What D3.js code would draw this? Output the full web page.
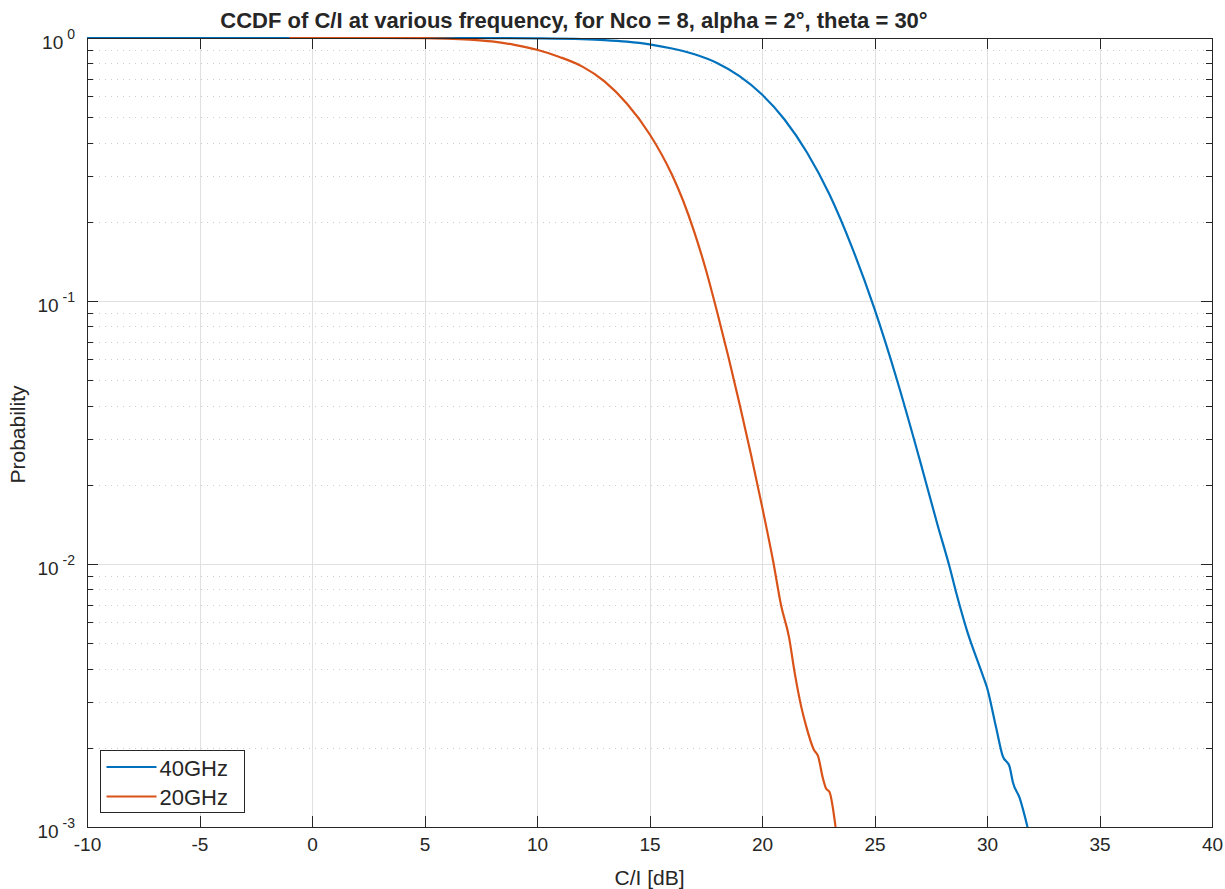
<!DOCTYPE html>
<html>
<head>
<meta charset="utf-8">
<script src="https://cdn.jsdelivr.net/npm/d3@7"></script>
<style>
  body { margin: 0; background: #fff; }
  svg text { font-family: "Liberation Sans", Arial, Helvetica, sans-serif; fill: #262626; }
</style>
</head>
<body>
<svg id="chart" width="1225" height="889"></svg>
<script>
// ---------------------------------------------------------------------------
// Data

const seriesNames = ['40GHz', '20GHz'];
const seriesColors = ['#0072BD', '#D95319'];

// 40GHz: C/I [dB] and CCDF probability
const ci40 = [-10, 0, 5, 8, 10, 12, 13, 14, 15, 16, 17, 18, 19, 20, 21, 22, 23, 24, 25, 26, 27,
  27.8, 28.35, 28.65, 29.1, 29.8, 30.0, 30.4, 30.7, 31.0, 31.15, 31.45, 31.8];
const prob40 = [1, 1, 1, 0.9988, 0.9966, 0.9897, 0.9817, 0.9683, 0.9462, 0.912, 0.867, 0.8035,
  0.716, 0.610, 0.490, 0.367, 0.254, 0.160, 0.0933, 0.0501, 0.0251,
  0.0141, 0.00966, 0.00767, 0.00562, 0.00380, 0.00339, 0.00240, 0.00186, 0.00170, 0.00148,
  0.00129, 0.00100];

// 20GHz
const ci20 = [-1, 3, 5, 6, 7, 8, 9, 10, 11, 12, 13, 14, 15, 16, 16.5, 17, 17.5, 18, 18.5, 19,
  19.5, 20, 20.5, 20.85, 21.2, 21.45, 21.75, 21.95, 22.3, 22.5, 22.7, 22.85, 23.0, 23.27];
const prob20 = [1, 1, 0.9995, 0.9954, 0.9863, 0.9705, 0.942, 0.902, 0.847, 0.780, 0.684, 0.562,
  0.4315, 0.302, 0.240, 0.182, 0.132, 0.0912, 0.0617, 0.0407,
  0.0263, 0.0166, 0.0102, 0.00695, 0.00527, 0.00387, 0.00285, 0.00244, 0.00197, 0.00185,
  0.00154, 0.00140, 0.00136, 0.00100];

const xTicks = [-10, -5, 0, 5, 10, 15, 20, 25, 30, 35, 40];
const yMajorExp = [0, -1, -2, -3];

const titleText = 'CCDF of C/I at various frequency, for Nco = 8, alpha = 2°, theta = 30°';
const xLabelText = 'C/I [dB]';
const yLabelText = 'Probability';

// ---------------------------------------------------------------------------
// Layout

const margin = { left: 87, right: 13, top: 38, bottom: 62 };
const width = 1225, height = 889;
const innerW = width - margin.left - margin.right;
const innerH = height - margin.top - margin.bottom;
const axisColor = '#262626';

const svg = d3.select('#chart');
const g = svg.append('g').attr('transform', `translate(${margin.left},${margin.top})`);

const x = d3.scaleLinear().domain([-10, 40]).range([0, innerW]);
const y = d3.scaleLog().domain([1e-3, 1]).range([innerH, 0]);

// minor decade values
const yMinor = [];
yMajorExp.slice(1).forEach(function(e) {
  for (let k = 2; k <= 9; k++) yMinor.push(k * Math.pow(10, e));
});
const yMajor = yMajorExp.map(e => Math.pow(10, e));

// grid
g.append('g').selectAll('line')
  .data(xTicks.slice(1, -1)).enter().append('line')
  .attr('x1', d => Math.round(x(d)) + 0.5).attr('x2', d => Math.round(x(d)) + 0.5)
  .attr('y1', 0).attr('y2', innerH)
  .attr('stroke', '#e0e0e0').attr('stroke-width', 1);

g.append('g').selectAll('line')
  .data(yMajor.slice(1, -1)).enter().append('line')
  .attr('x1', 0).attr('x2', innerW)
  .attr('y1', d => Math.round(y(d)) + 0.5).attr('y2', d => Math.round(y(d)) + 0.5)
  .attr('stroke', '#e0e0e0').attr('stroke-width', 1);

g.append('g').selectAll('line')
  .data(yMinor).enter().append('line')
  .attr('x1', 0).attr('x2', innerW)
  .attr('y1', d => Math.round(y(d)) + 0.5).attr('y2', d => Math.round(y(d)) + 0.5)
  .attr('stroke', '#cccccc').attr('stroke-width', 1)
  .attr('stroke-dasharray', '1,5');

// lines
svg.append('defs').append('clipPath').attr('id', 'clip')
  .append('rect').attr('x', -2).attr('y', -2).attr('width', innerW + 4).attr('height', innerH + 2);

const line = d3.line().x(d => x(d[0])).y(d => y(d[1])).curve(d3.curveMonotoneX);
const series = [d3.zip(ci40, prob40), d3.zip(ci20, prob20)];

g.append('g').attr('clip-path', 'url(#clip)')
  .selectAll('path').data(series).enter().append('path')
  .attr('d', line)
  .attr('fill', 'none')
  .attr('stroke', (d, i) => seriesColors[i])
  .attr('stroke-width', 2.2)
  .attr('stroke-linejoin', 'round');

// axes
const tick = 11, minorTick = 6;
const xAxisB = d3.axisBottom(x).tickValues(xTicks).tickSize(0).tickPadding(11)
  .tickFormat(d => String(d));
const gx = g.append('g').attr('transform', `translate(0,${innerH})`).call(xAxisB);
gx.select('.domain').remove();
gx.selectAll('text').attr('font-size', 19).attr('fill', axisColor)
  .style('font-family', '"Liberation Sans", Arial, sans-serif');

// tick marks (bottom / top / left / right)
const tickG = g.append('g').attr('stroke', axisColor).attr('stroke-width', 1);
xTicks.forEach(function(v) {
  const px = Math.round(x(v)) + 0.5;
  tickG.append('line').attr('x1', px).attr('x2', px).attr('y1', innerH).attr('y2', innerH - tick);
  tickG.append('line').attr('x1', px).attr('x2', px).attr('y1', 0).attr('y2', tick);
});
yMajor.forEach(function(v) {
  const py = Math.round(y(v)) + 0.5;
  tickG.append('line').attr('x1', 0).attr('x2', tick).attr('y1', py).attr('y2', py);
  tickG.append('line').attr('x1', innerW).attr('x2', innerW - tick).attr('y1', py).attr('y2', py);
});
yMinor.forEach(function(v) {
  const py = Math.round(y(v)) + 0.5;
  tickG.append('line').attr('x1', 0).attr('x2', minorTick).attr('y1', py).attr('y2', py);
  tickG.append('line').attr('x1', innerW).attr('x2', innerW - minorTick).attr('y1', py).attr('y2', py);
});

// box
g.append('rect').attr('x', 0.5).attr('y', 0.5)
  .attr('width', innerW).attr('height', innerH)
  .attr('fill', 'none').attr('stroke', axisColor).attr('stroke-width', 1);

// y tick labels: 10^e
const yl = g.append('g');
yMajorExp.forEach(function(e) {
  const t = yl.append('text')
    .attr('x', -12).attr('y', y(Math.pow(10, e)) + 11)
    .attr('text-anchor', 'end').attr('font-size', 19);
  t.append('tspan').text('10');
  t.append('tspan').attr('dy', -10).attr('dx', 4).attr('font-size', 14).text(String(e));
});

// title and labels
svg.append('text').attr('x', 574).attr('y', 28)
  .attr('text-anchor', 'middle').attr('font-size', 22).attr('font-weight', 'bold')
  .attr('fill', '#000').text(titleText);

svg.append('text').attr('x', margin.left + innerW / 2).attr('y', 885)
  .attr('text-anchor', 'middle').attr('font-size', 21).text(xLabelText);

svg.append('text').attr('transform', `translate(25,${margin.top + innerH / 2 + 2}) rotate(-90)`)
  .attr('text-anchor', 'middle').attr('font-size', 21).text(yLabelText);

// legend
const leg = svg.append('g').attr('transform', 'translate(100.5,750.5)');
leg.append('rect').attr('width', 144).attr('height', 62)
  .attr('fill', '#fff').attr('stroke', axisColor).attr('stroke-width', 1);
seriesNames.forEach(function(name, i) {
  const cy = 16.5 + i * 29.5;
  leg.append('line').attr('x1', 6).attr('x2', 56).attr('y1', cy).attr('y2', cy)
    .attr('stroke', seriesColors[i]).attr('stroke-width', 2.2);
  leg.append('text').attr('x', 59).attr('y', cy + 8.5)
    .attr('font-size', 22).attr('fill', '#000').text(name);
});
</script>
</body>
</html>
